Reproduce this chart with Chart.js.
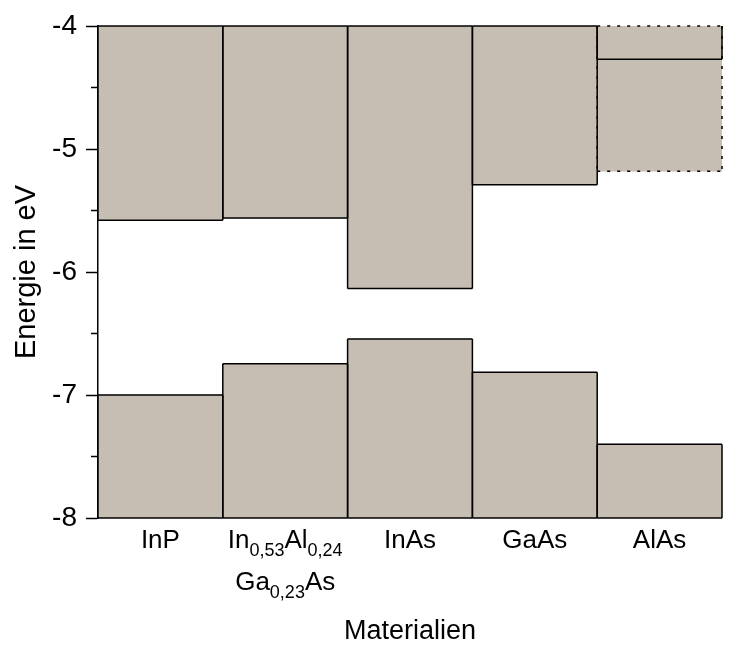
<!DOCTYPE html>
<html>
<head>
<meta charset="utf-8">
<script src="https://cdn.jsdelivr.net/npm/chart.js@4"></script>
<style>
  html, body { margin: 0; padding: 0; background: #fff; }
</style>
</head>
<body>
<canvas id="bands" width="740" height="645"></canvas>
<script>
"use strict";

// Materials (subscripts as _{...}, line break as \n)
const materials = ["InP", "In_{0,53}Al_{0,24}\nGa_{0,23}As", "InAs", "GaAs", "AlAs"];

// Band edges in eV
const conductionBand = [-5.58, -5.56, -6.135, -5.29, -5.18];
const valenceBand = [-7.00, -6.745, -6.545, -6.815, -7.40];
const secondValley = [null, null, null, null, -4.27];

// Energy axis
const energyTop = -4;
const energyBottom = -8;
const energyTicks = [-8, -7.5, -7, -6.5, -6, -5.5, -5, -4.5, -4];

const fontFamily = "'Liberation Sans', Arial, sans-serif";
const bandFill = "#c7beb3";

// Outlines of the bars, drawn centred on the edges so shared edges stay thin
const bandEdges = {
    id: "bandEdges",
    afterDatasetsDraw(chart) {
        const ctx = chart.ctx;
        chart.data.datasets.forEach((ds, d) => {
            const meta = chart.getDatasetMeta(d);
            meta.data.forEach((bar, i) => {
                if (ds.data[i] === null) return;
                const { x, y, base, width } = bar.getProps(["x", "y", "base", "width"], true);
                const left = x - width / 2;
                const right = x + width / 2;
                const top = Math.min(y, base);
                const bottom = Math.max(y, base);
                const sides = {
                    top: [left, top, right, top],
                    right: [right, top, right, bottom],
                    bottom: [left, bottom, right, bottom],
                    left: [left, top, left, bottom]
                };
                ctx.save();
                ctx.strokeStyle = "#000";
                ctx.lineWidth = 1.5;
                ctx.setLineDash(ds.edgeDash ? ds.edgeDash(i) : []);
                Object.keys(sides).forEach(side => {
                    if (ds.edgeSkip === side) return;
                    const s = sides[side];
                    ctx.beginPath();
                    ctx.moveTo(s[0], s[1]);
                    ctx.lineTo(s[2], s[3]);
                    ctx.stroke();
                });
                ctx.restore();
            });
        });

        // Minor ticks on the energy axis
        const yScale = chart.scales.y;
        const axisX = chart.chartArea.left;
        ctx.save();
        ctx.strokeStyle = "#000";
        ctx.lineWidth = 1.5;
        energyTicks.filter(v => !Number.isInteger(v)).forEach(v => {
            const py = yScale.getPixelForValue(v);
            ctx.beginPath();
            ctx.moveTo(axisX - 7, py);
            ctx.lineTo(axisX, py);
            ctx.stroke();
        });
        ctx.restore();
    }
};

// Category labels with subscripts
const materialLabels = {
    id: "materialLabels",
    afterDraw(chart) {
        const ctx = chart.ctx;
        const xScale = chart.scales.x;
        const area = chart.chartArea;
        const mainFont = "26px " + fontFamily;
        const subFont = "18px " + fontFamily;
        ctx.save();
        ctx.fillStyle = "#000";
        ctx.textBaseline = "alphabetic";
        ctx.textAlign = "left";
        materials.forEach((name, i) => {
            const cx = xScale.getPixelForValue(i);
            name.split("\n").forEach((line, l) => {
                const parts = line.split(/_\{([^}]*)\}/);
                let total = 0;
                parts.forEach((p, k) => {
                    ctx.font = k % 2 ? subFont : mainFont;
                    total += ctx.measureText(p).width;
                });
                let px = cx - total / 2;
                const baseY = area.bottom + 30 + l * 42;
                parts.forEach((p, k) => {
                    ctx.font = k % 2 ? subFont : mainFont;
                    ctx.fillText(p, px, k % 2 ? baseY + 8 : baseY);
                    px += ctx.measureText(p).width;
                });
            });
        });
        ctx.restore();
    }
};

const barCommon = {
    borderWidth: 0,
    grouped: false,
    barPercentage: 1,
    categoryPercentage: 1
};

new Chart(document.getElementById("bands"), {
    type: "bar",
    data: {
        labels: materials,
        datasets: [
            Object.assign({
                label: "Leitungsband",
                data: conductionBand.map(v => [energyTop, v]),
                backgroundColor: bandFill,
                edgeDash: i => (i === 4 ? [3, 7] : [])
            }, barCommon),
            Object.assign({
                label: "Valenzband",
                data: valenceBand.map(v => [energyBottom, v]),
                backgroundColor: bandFill
            }, barCommon),
            Object.assign({
                label: "AlAs",
                data: secondValley.map(v => (v === null ? null : [energyTop, v])),
                backgroundColor: "rgba(0,0,0,0)",
                edgeSkip: "top"
            }, barCommon)
        ]
    },
    options: {
        responsive: false,
        animation: false,
        devicePixelRatio: 1,
        layout: { padding: { top: 26, right: 18, bottom: 0, left: 0 } },
        plugins: {
            legend: { display: false },
            tooltip: { enabled: false }
        },
        scales: {
            x: {
                type: "category",
                grid: { display: false, drawTicks: false, tickLength: 0 },
                border: { display: false },
                ticks: { display: false },
                title: {
                    display: true,
                    text: "Materialien",
                    color: "#000",
                    font: { family: fontFamily, size: 27, lineHeight: 1 },
                    padding: { top: 100, bottom: 0 }
                }
            },
            y: {
                min: energyBottom,
                max: energyTop,
                afterBuildTicks(scale) {
                    scale.ticks = energyTicks.map(v => ({ value: v }));
                },
                afterFit(scale) {
                    scale.width = 98;
                },
                grid: {
                    display: true,
                    drawOnChartArea: false,
                    drawTicks: true,
                    tickLength: 12,
                    tickWidth: 1.5,
                    tickColor: ctx => (Number.isInteger(ctx.tick.value) ? "#000" : "rgba(0,0,0,0)")
                },
                border: { display: true, color: "#000", width: 1.5 },
                ticks: {
                    autoSkip: false,
                    padding: 9,
                    color: "#000",
                    font: { family: fontFamily, size: 28 },
                    callback: v => (Number.isInteger(v) ? String(v) : "")
                },
                title: {
                    display: true,
                    text: "Energie in eV",
                    color: "#000",
                    font: { family: fontFamily, size: 29, lineHeight: 1 },
                    padding: { top: 12.5, bottom: 0 }
                }
            }
        }
    },
    plugins: [bandEdges, materialLabels]
});
</script>
</body>
</html>
